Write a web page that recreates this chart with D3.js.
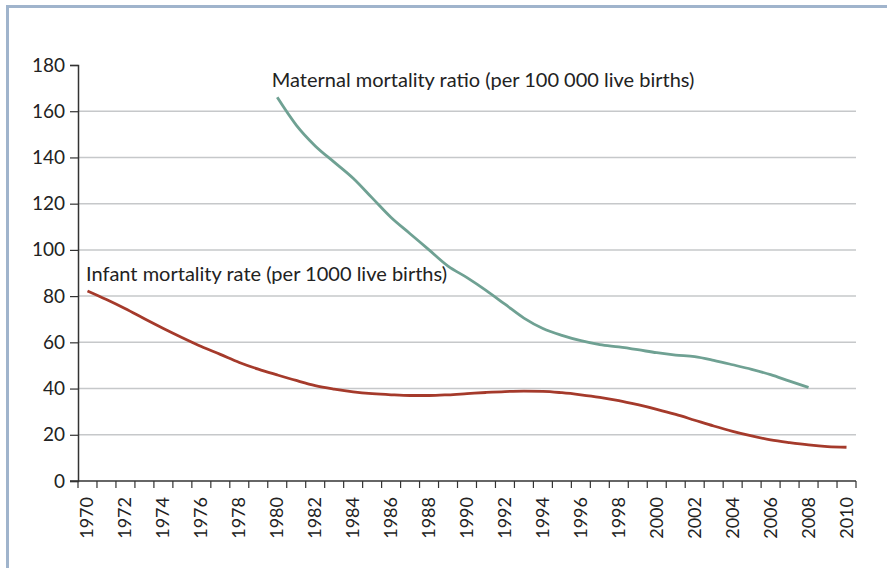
<!DOCTYPE html>
<html>
<head>
<meta charset="utf-8">
<script src="https://cdn.jsdelivr.net/npm/d3@7"></script>
<style>
  body { margin: 0; background: #fff; }
  svg text { font-family: Lato, "Open Sans", sans-serif; fill: #222; }
</style>
</head>
<body>
<div id="chart"></div>
<script>
// years on the category axis
const years = d3.range(1970, 2011);
const yTicks = [0, 20, 40, 60, 80, 100, 120, 140, 160, 180];

// Infant mortality rate (per 1000 live births), 1970-2010
const infantYears = d3.range(1970, 2011);
const infantValues = [
  82.2, 78.5, 74.5, 70.2, 66.0, 62.0, 58.2, 54.8, 51.3, 48.4,
  45.9, 43.5, 41.3, 39.8, 38.6, 37.8, 37.3, 37.0, 37.0, 37.3,
  37.8, 38.3, 38.7, 38.9, 38.8, 38.2, 37.3, 36.2, 34.8, 33.0,
  31.0, 28.8, 26.3, 23.8, 21.5, 19.5, 17.8, 16.6, 15.6, 14.9,
  14.6
];

// Maternal mortality ratio (per 100 000 live births), 1980-2008
const maternalYears = d3.range(1980, 2009);
const maternalValues = [
  166, 154, 145, 138, 131, 122.5, 114, 107, 100, 93,
  88, 82.5, 76.5, 70.5, 66, 63, 60.7, 59, 58, 56.8,
  55.5, 54.5, 53.8, 52.2, 50.3, 48.3, 46, 43.2, 40.5
];

const infantLabel = "Infant mortality rate (per 1000 live births)";
const maternalLabel = "Maternal mortality ratio (per 100 000 live births)";

const W = 887, H = 568;
const margin = { top: 65, right: 31, bottom: 87, left: 78 };
const width = W - margin.left - margin.right,
      height = H - margin.top - margin.bottom;

const root = d3.select("#chart").append("svg")
    .attr("width", W)
    .attr("height", H);

// frame lines (top and left)
root.append("line")
    .attr("x1", 6).attr("x2", W).attr("y1", 6.5).attr("y2", 6.5)
    .attr("stroke", "#a0b4cc").attr("stroke-width", 3);
root.append("line")
    .attr("x1", 7.5).attr("x2", 7.5).attr("y1", 5).attr("y2", H)
    .attr("stroke", "#a0b4cc").attr("stroke-width", 3);

const svg = root.append("g")
    .attr("transform", "translate(" + margin.left + "," + margin.top + ")");

const x = d3.scaleBand()
    .domain(years)
    .range([0, width])
    .padding(0);

const y = d3.scaleLinear()
    .domain([0, 180])
    .range([height, 0]);

// gridlines
svg.append("g")
    .selectAll("line")
    .data(yTicks.filter(d => d > 0 && d < 180))
    .enter().append("line")
      .attr("x1", 0)
      .attr("x2", width)
      .attr("y1", d => y(d))
      .attr("y2", d => y(d))
      .attr("stroke", "#c6c8ca")
      .attr("stroke-width", 1.5);

// y axis
const yAxis = svg.append("g")
    .call(d3.axisLeft(y).tickValues(yTicks).tickSize(8).tickPadding(5));
yAxis.select(".domain").attr("stroke", "#333").attr("stroke-width", 1.5);
yAxis.selectAll(".tick line").attr("stroke", "#333").attr("stroke-width", 1.2);
yAxis.selectAll("text")
    .style("font-size", "19px")
    .attr("fill", "#222");

// x axis: ticks at every band boundary, labels on even years
const xg = svg.append("g")
    .attr("transform", "translate(0," + height + ")");
xg.append("line")
    .attr("x1", -8).attr("x2", width)
    .attr("stroke", "#333").attr("stroke-width", 1.5);
xg.selectAll(".xtick")
    .data(years.concat([2011]))
    .enter().append("line")
      .attr("class", "xtick")
      .attr("x1", d => d === 2011 ? width : x(d))
      .attr("x2", d => d === 2011 ? width : x(d))
      .attr("y1", 0)
      .attr("y2", 7)
      .attr("stroke", "#333")
      .attr("stroke-width", 1.2);
xg.selectAll(".xlabel")
    .data(years.filter(d => d % 2 === 0))
    .enter().append("text")
      .attr("class", "xlabel")
      .attr("transform", d => "translate(" + (x(d) + x.bandwidth() / 2 + 6) + ",16) rotate(-90)")
      .attr("text-anchor", "end")
      .style("font-size", "18px")
      .text(d => d);

const line = d3.line()
    .x(d => x(d[0]) + x.bandwidth() / 2)
    .y(d => y(d[1]))
    .curve(d3.curveMonotoneX);

svg.append("path")
    .datum(maternalYears.map((yr, i) => [yr, maternalValues[i]]))
    .attr("d", line)
    .attr("fill", "none")
    .attr("stroke", "#6fa193")
    .attr("stroke-width", 2.8);

svg.append("path")
    .datum(infantYears.map((yr, i) => [yr, infantValues[i]]))
    .attr("d", line)
    .attr("fill", "none")
    .attr("stroke", "#a53a2b")
    .attr("stroke-width", 2.8);

// series labels
svg.append("text")
    .attr("x", x(1980) + 4)
    .attr("y", y(166) - 10)
    .style("font-size", "20px")
    .text(maternalLabel);

svg.append("text")
    .attr("x", x(1970) + 8)
    .attr("y", y(86.5))
    .style("font-size", "20px")
    .text(infantLabel);
</script>
</body>
</html>
